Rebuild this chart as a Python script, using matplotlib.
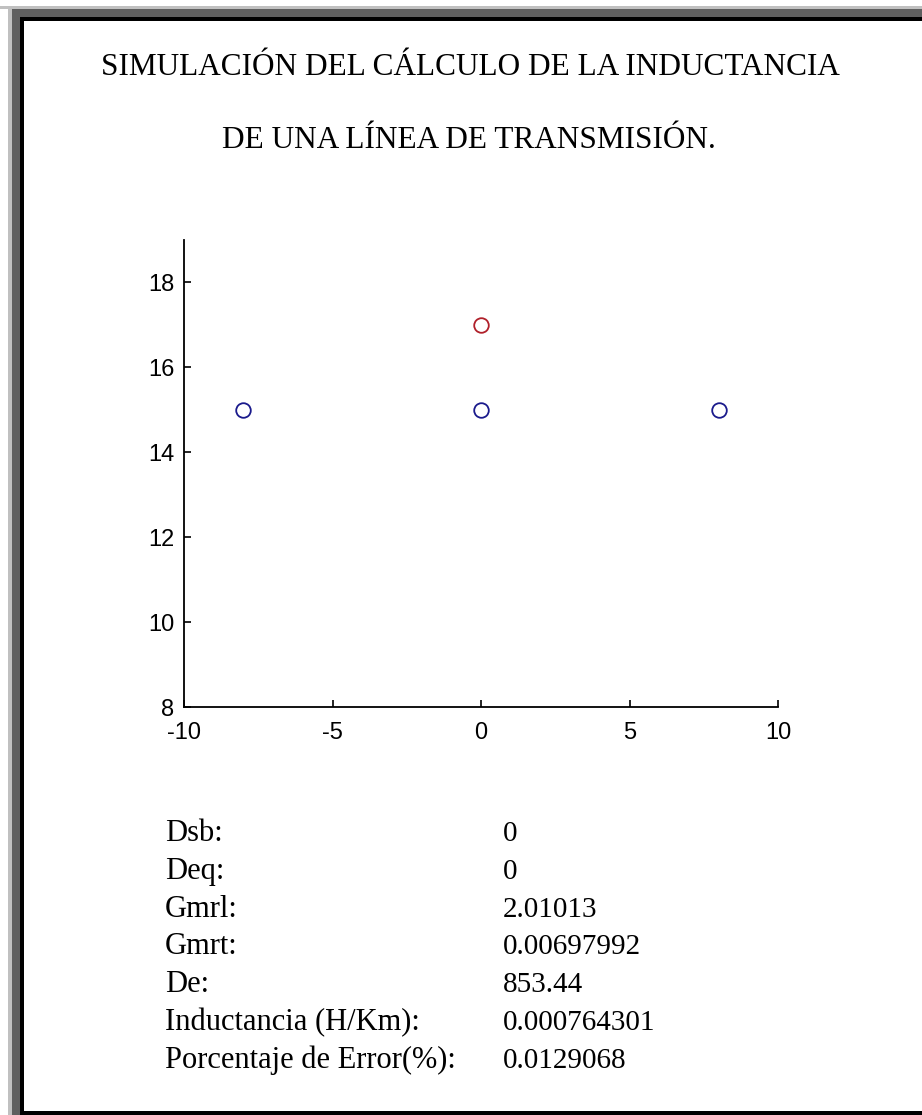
import matplotlib.pyplot as plt
from matplotlib.patches import Rectangle

plt.rcParams['axes.unicode_minus'] = False

# conductor positions
blue_x = [-8, 0, 8]
blue_y = [15, 15, 15]
red_x = [0]
red_y = [17]

title_lines = ['SIMULACIÓN DEL CÁLCULO DE LA INDUCTANCIA',
               'DE UNA LÍNEA DE TRANSMISIÓN.']

labels = ['Dsb:', 'Deq:', 'Gmrl:', 'Gmrt:', 'De:', 'Inductancia (H/Km):',
          'Porcentaje de Error(%):']
values = ['0', '0', '2.01013', '0.00697992', '853.44', '0.000764301',
          '0.0129068']

xticks = [-10, -5, 0, 5, 10]
yticks = [8, 10, 12, 14, 16, 18]

W, H = 922, 1115
fig = plt.figure(figsize=(W / 100, H / 100), dpi=100)
fig.patch.set_facecolor('white')

# window frame (gray bevel on top/left, black line bottom)
def px_rect(x0, y0, x1, y1, color):
    fig.patches.append(Rectangle((x0 / W, 1 - y1 / H), (x1 - x0) / W, (y1 - y0) / H,
                                 transform=fig.transFigure, color=color, lw=0, zorder=0))

px_rect(0, 6, W, 9, '#c0c0c0')
px_rect(8, 6, 12, H, '#c0c0c0')
px_rect(12, 9, W, 17, '#5f5f5f')
px_rect(12, 9, 20, H, '#5f5f5f')
px_rect(20, 17, W, 21, 'black')
px_rect(20, 17, 24, H, 'black')
px_rect(20, 1111, W, H, 'black')

ax = fig.add_axes([184 / W, 1 - 707 / H, (778 - 184) / W, (707 - 240) / H])
ax.plot(blue_x, blue_y, 'o', mfc='none', mec='#1a1a8c', ms=10.5, mew=1.3)
ax.plot(red_x, red_y, 'o', mfc='none', mec='#b0202a', ms=10.5, mew=1.3)
ax.set_xlim(-10, 10)
ax.set_ylim(8, 19)
ax.set_xticks(xticks)
ax.set_yticks(yticks)
ax.spines['top'].set_visible(False)
ax.spines['right'].set_visible(False)
for s in ['left', 'bottom']:
    ax.spines[s].set_linewidth(1.3)
ax.tick_params(direction='in', length=5, width=1.2, labelsize=17)
ax.tick_params(axis='x', pad=11)
ax.tick_params(axis='y', pad=7)
for lab in ax.get_xticklabels() + ax.get_yticklabels():
    lab.set_family('Liberation Sans')

serif = 'Liberation Serif'
fig.text(470 / W, 1 - 75 / H, title_lines[0], ha='center', va='baseline',
         fontsize=22.5, family=serif)
fig.text(469 / W, 1 - 148 / H, title_lines[1], ha='center', va='baseline',
         fontsize=22.5, family=serif)

for i, (lab, val) in enumerate(zip(labels, values)):
    yb = 1 - (841 + 37.8 * i) / H
    fig.text(165 / W, yb, lab, ha='left', va='baseline', fontsize=22, family=serif)
    fig.text(503 / W, yb, val, ha='left', va='baseline', fontsize=21, family=serif)

fig.savefig('out.png', dpi=100)
